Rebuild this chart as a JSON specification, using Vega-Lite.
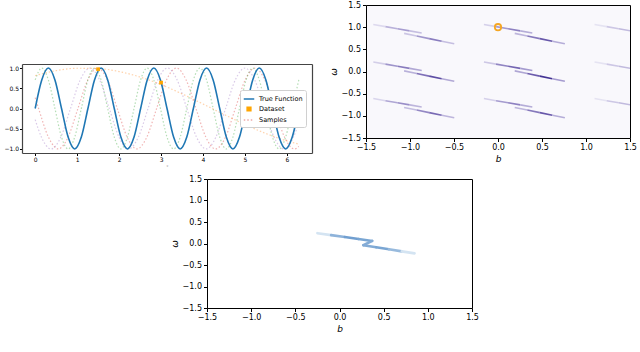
{
  "$schema": "https://vega.github.io/schema/vega-lite/v6.json",
  "background": "white",
  "padding": {"left": 3, "top": 0, "right": 0, "bottom": 0},
  "config": {
    "font": "DejaVu Sans",
    "view": {"stroke": "black", "strokeWidth": 1},
    "axis": {"grid": false, "domain": false, "tickColor": "black", "labelColor": "black", "titleColor": "black", "titleFontWeight": "normal", "labelFlush": false, "labelOverlap": false}
  },
  "datasets": {
    "samples": [
      {"series": "Sample 1", "x": 0, "y": 0.268}, {"series": "Sample 1", "x": 0.081, "y": 0}, {"series": "Sample 1", "x": 0.316, "y": -0.707}, {"series": "Sample 1", "x": 0.55, "y": -1}, {"series": "Sample 1", "x": 0.784, "y": -0.707}, {"series": "Sample 1", "x": 1.019, "y": 0}, {"series": "Sample 1", "x": 1.253, "y": 0.707}, {"series": "Sample 1", "x": 1.488, "y": 1}, {"series": "Sample 1", "x": 1.722, "y": 0.707}, {"series": "Sample 1", "x": 1.957, "y": 0}, {"series": "Sample 1", "x": 2.191, "y": -0.707}, {"series": "Sample 1", "x": 2.426, "y": -1}, {"series": "Sample 1", "x": 2.66, "y": -0.707}, {"series": "Sample 1", "x": 2.894, "y": 0}, {"series": "Sample 1", "x": 3.129, "y": 0.707}, {"series": "Sample 1", "x": 3.363, "y": 1}, {"series": "Sample 1", "x": 3.598, "y": 0.707}, {"series": "Sample 1", "x": 3.832, "y": 0}, {"series": "Sample 1", "x": 4.067, "y": -0.707}, {"series": "Sample 1", "x": 4.301, "y": -1}, {"series": "Sample 1", "x": 4.536, "y": -0.707}, {"series": "Sample 1", "x": 4.77, "y": 0}, {"series": "Sample 1", "x": 5.005, "y": 0.707}, {"series": "Sample 1", "x": 5.239, "y": 1}, {"series": "Sample 1", "x": 5.473, "y": 0.707}, {"series": "Sample 1", "x": 5.708, "y": 0}, {"series": "Sample 1", "x": 5.942, "y": -0.707}, {"series": "Sample 1", "x": 6.177, "y": -1}, {"series": "Sample 1", "x": 6.283, "y": -0.937},
      {"series": "Sample 2", "x": 0, "y": 0.707}, {"series": "Sample 2", "x": 0.157, "y": 1}, {"series": "Sample 2", "x": 0.314, "y": 0.707}, {"series": "Sample 2", "x": 0.471, "y": 0}, {"series": "Sample 2", "x": 0.628, "y": -0.707}, {"series": "Sample 2", "x": 0.785, "y": -1}, {"series": "Sample 2", "x": 0.942, "y": -0.707}, {"series": "Sample 2", "x": 1.1, "y": 0}, {"series": "Sample 2", "x": 1.257, "y": 0.707}, {"series": "Sample 2", "x": 1.414, "y": 1}, {"series": "Sample 2", "x": 1.571, "y": 0.707}, {"series": "Sample 2", "x": 1.728, "y": 0}, {"series": "Sample 2", "x": 1.885, "y": -0.707}, {"series": "Sample 2", "x": 2.042, "y": -1}, {"series": "Sample 2", "x": 2.199, "y": -0.707}, {"series": "Sample 2", "x": 2.356, "y": 0}, {"series": "Sample 2", "x": 2.513, "y": 0.707}, {"series": "Sample 2", "x": 2.67, "y": 1}, {"series": "Sample 2", "x": 2.827, "y": 0.707}, {"series": "Sample 2", "x": 2.985, "y": 0}, {"series": "Sample 2", "x": 3.142, "y": -0.707}, {"series": "Sample 2", "x": 3.299, "y": -1}, {"series": "Sample 2", "x": 3.456, "y": -0.707}, {"series": "Sample 2", "x": 3.613, "y": 0}, {"series": "Sample 2", "x": 3.77, "y": 0.707}, {"series": "Sample 2", "x": 3.927, "y": 1}, {"series": "Sample 2", "x": 4.084, "y": 0.707}, {"series": "Sample 2", "x": 4.241, "y": 0}, {"series": "Sample 2", "x": 4.398, "y": -0.707}, {"series": "Sample 2", "x": 4.555, "y": -1}, {"series": "Sample 2", "x": 4.712, "y": -0.707}, {"series": "Sample 2", "x": 4.869, "y": 0}, {"series": "Sample 2", "x": 5.027, "y": 0.707}, {"series": "Sample 2", "x": 5.184, "y": 1}, {"series": "Sample 2", "x": 5.341, "y": 0.707}, {"series": "Sample 2", "x": 5.498, "y": 0}, {"series": "Sample 2", "x": 5.655, "y": -0.707}, {"series": "Sample 2", "x": 5.812, "y": -1}, {"series": "Sample 2", "x": 5.969, "y": -0.707}, {"series": "Sample 2", "x": 6.126, "y": 0}, {"series": "Sample 2", "x": 6.283, "y": 0.707},
      {"series": "Sample 3", "x": 0, "y": -0.275}, {"series": "Sample 3", "x": 0.149, "y": -0.707}, {"series": "Sample 3", "x": 0.38, "y": -1}, {"series": "Sample 3", "x": 0.611, "y": -0.707}, {"series": "Sample 3", "x": 0.842, "y": 0}, {"series": "Sample 3", "x": 1.073, "y": 0.707}, {"series": "Sample 3", "x": 1.304, "y": 1}, {"series": "Sample 3", "x": 1.535, "y": 0.707}, {"series": "Sample 3", "x": 1.766, "y": 0}, {"series": "Sample 3", "x": 1.997, "y": -0.707}, {"series": "Sample 3", "x": 2.228, "y": -1}, {"series": "Sample 3", "x": 2.459, "y": -0.707}, {"series": "Sample 3", "x": 2.69, "y": 0}, {"series": "Sample 3", "x": 2.921, "y": 0.707}, {"series": "Sample 3", "x": 3.152, "y": 1}, {"series": "Sample 3", "x": 3.383, "y": 0.707}, {"series": "Sample 3", "x": 3.614, "y": 0}, {"series": "Sample 3", "x": 3.845, "y": -0.707}, {"series": "Sample 3", "x": 4.076, "y": -1}, {"series": "Sample 3", "x": 4.307, "y": -0.707}, {"series": "Sample 3", "x": 4.538, "y": 0}, {"series": "Sample 3", "x": 4.769, "y": 0.707}, {"series": "Sample 3", "x": 5.0, "y": 1}, {"series": "Sample 3", "x": 5.231, "y": 0.707}, {"series": "Sample 3", "x": 5.462, "y": 0}, {"series": "Sample 3", "x": 5.693, "y": -0.707}, {"series": "Sample 3", "x": 5.924, "y": -1}, {"series": "Sample 3", "x": 6.155, "y": -0.707}, {"series": "Sample 3", "x": 6.283, "y": -0.345},
      {"series": "Sample 4", "x": 0, "y": 0.813}, {"series": "Sample 4", "x": 0.5, "y": 0.936}, {"series": "Sample 4", "x": 1.0, "y": 0.995}, {"series": "Sample 4", "x": 1.5, "y": 0.987}, {"series": "Sample 4", "x": 2.0, "y": 0.913}, {"series": "Sample 4", "x": 2.5, "y": 0.778}, {"series": "Sample 4", "x": 3.0, "y": 0.59}, {"series": "Sample 4", "x": 3.5, "y": 0.362}, {"series": "Sample 4", "x": 4.0, "y": 0.111}, {"series": "Sample 4", "x": 4.5, "y": -0.147}, {"series": "Sample 4", "x": 5.0, "y": -0.397}, {"series": "Sample 4", "x": 5.5, "y": -0.619}, {"series": "Sample 4", "x": 6.0, "y": -0.801}, {"series": "Sample 4", "x": 6.283, "y": -0.88}
    ],
    "truefn": [
      {"series": "True Function", "x": 0, "y": 0}, {"series": "True Function", "x": 0.157, "y": 0.707}, {"series": "True Function", "x": 0.314, "y": 1}, {"series": "True Function", "x": 0.471, "y": 0.707}, {"series": "True Function", "x": 0.628, "y": 0}, {"series": "True Function", "x": 0.785, "y": -0.707}, {"series": "True Function", "x": 0.942, "y": -1}, {"series": "True Function", "x": 1.1, "y": -0.707}, {"series": "True Function", "x": 1.257, "y": 0}, {"series": "True Function", "x": 1.414, "y": 0.707}, {"series": "True Function", "x": 1.571, "y": 1}, {"series": "True Function", "x": 1.728, "y": 0.707}, {"series": "True Function", "x": 1.885, "y": 0}, {"series": "True Function", "x": 2.042, "y": -0.707}, {"series": "True Function", "x": 2.199, "y": -1}, {"series": "True Function", "x": 2.356, "y": -0.707}, {"series": "True Function", "x": 2.513, "y": 0}, {"series": "True Function", "x": 2.67, "y": 0.707}, {"series": "True Function", "x": 2.827, "y": 1}, {"series": "True Function", "x": 2.985, "y": 0.707}, {"series": "True Function", "x": 3.142, "y": 0}, {"series": "True Function", "x": 3.299, "y": -0.707}, {"series": "True Function", "x": 3.456, "y": -1}, {"series": "True Function", "x": 3.613, "y": -0.707}, {"series": "True Function", "x": 3.77, "y": 0}, {"series": "True Function", "x": 3.927, "y": 0.707}, {"series": "True Function", "x": 4.084, "y": 1}, {"series": "True Function", "x": 4.241, "y": 0.707}, {"series": "True Function", "x": 4.398, "y": 0}, {"series": "True Function", "x": 4.555, "y": -0.707}, {"series": "True Function", "x": 4.712, "y": -1}, {"series": "True Function", "x": 4.869, "y": -0.707}, {"series": "True Function", "x": 5.027, "y": 0}, {"series": "True Function", "x": 5.184, "y": 0.707}, {"series": "True Function", "x": 5.341, "y": 1}, {"series": "True Function", "x": 5.498, "y": 0.707}, {"series": "True Function", "x": 5.655, "y": 0}, {"series": "True Function", "x": 5.812, "y": -0.707}, {"series": "True Function", "x": 5.969, "y": -1}, {"series": "True Function", "x": 6.126, "y": -0.707}, {"series": "True Function", "x": 6.283, "y": 0}
    ],
    "obs": [
      {"series": "Dataset", "x": 1.5, "y": 0.97},
      {"series": "Dataset", "x": 3.0, "y": 0.64}
    ],
    "streaks": [
      {"b": -1.417, "w": 1.06, "b2": -1.279, "w2": 1.012, "d": 0.12}, {"b": -1.279, "w": 1.012, "b2": -1.142, "w2": 0.965, "d": 0.3}, {"b": -1.142, "w": 0.965, "b2": -1.004, "w2": 0.917, "d": 0.39}, {"b": -1.004, "w": 0.917, "b2": -0.867, "w2": 0.87, "d": 0.24},
      {"b": -1.067, "w": 0.86, "b2": -0.924, "w2": 0.801, "d": 0.21}, {"b": -0.924, "w": 0.801, "b2": -0.782, "w2": 0.742, "d": 0.42}, {"b": -0.782, "w": 0.742, "b2": -0.639, "w2": 0.684, "d": 0.54}, {"b": -0.639, "w": 0.684, "b2": -0.497, "w2": 0.625, "d": 0.24},
      {"b": -1.417, "w": 0.214, "b2": -1.279, "w2": 0.166, "d": 0.17}, {"b": -1.279, "w": 0.166, "b2": -1.142, "w2": 0.119, "d": 0.43}, {"b": -1.142, "w": 0.119, "b2": -1.004, "w2": 0.071, "d": 0.55}, {"b": -1.004, "w": 0.071, "b2": -0.867, "w2": 0.024, "d": 0.34},
      {"b": -1.067, "w": 0.014, "b2": -0.924, "w2": -0.045, "d": 0.3}, {"b": -0.924, "w": -0.045, "b2": -0.782, "w2": -0.104, "d": 0.6}, {"b": -0.782, "w": -0.104, "b2": -0.639, "w2": -0.162, "d": 0.77}, {"b": -0.639, "w": -0.162, "b2": -0.497, "w2": -0.221, "d": 0.34},
      {"b": -1.417, "w": -0.61, "b2": -1.279, "w2": -0.658, "d": 0.14}, {"b": -1.279, "w": -0.658, "b2": -1.142, "w2": -0.705, "d": 0.35}, {"b": -1.142, "w": -0.705, "b2": -1.004, "w2": -0.753, "d": 0.46}, {"b": -1.004, "w": -0.753, "b2": -0.867, "w2": -0.8, "d": 0.28},
      {"b": -1.067, "w": -0.81, "b2": -0.924, "w2": -0.869, "d": 0.25}, {"b": -0.924, "w": -0.869, "b2": -0.782, "w2": -0.928, "d": 0.49}, {"b": -0.782, "w": -0.928, "b2": -0.639, "w2": -0.986, "d": 0.63}, {"b": -0.639, "w": -0.986, "b2": -0.497, "w2": -1.045, "d": 0.28},
      {"b": -0.16, "w": 1.06, "b2": -0.022, "w2": 1.012, "d": 0.16}, {"b": -0.022, "w": 1.012, "b2": 0.115, "w2": 0.965, "d": 0.4}, {"b": 0.115, "w": 0.965, "b2": 0.253, "w2": 0.917, "d": 0.52}, {"b": 0.253, "w": 0.917, "b2": 0.39, "w2": 0.87, "d": 0.32},
      {"b": 0.19, "w": 0.86, "b2": 0.333, "w2": 0.801, "d": 0.28}, {"b": 0.333, "w": 0.801, "b2": 0.475, "w2": 0.742, "d": 0.56}, {"b": 0.475, "w": 0.742, "b2": 0.618, "w2": 0.684, "d": 0.72}, {"b": 0.618, "w": 0.684, "b2": 0.76, "w2": 0.625, "d": 0.32},
      {"b": -0.16, "w": 0.214, "b2": -0.022, "w2": 0.166, "d": 0.2}, {"b": -0.022, "w": 0.166, "b2": 0.115, "w2": 0.119, "d": 0.5}, {"b": 0.115, "w": 0.119, "b2": 0.253, "w2": 0.071, "d": 0.65}, {"b": 0.253, "w": 0.071, "b2": 0.39, "w2": 0.024, "d": 0.4},
      {"b": 0.19, "w": 0.014, "b2": 0.333, "w2": -0.045, "d": 0.35}, {"b": 0.333, "w": -0.045, "b2": 0.475, "w2": -0.104, "d": 0.7}, {"b": 0.475, "w": -0.104, "b2": 0.618, "w2": -0.162, "d": 0.9}, {"b": 0.618, "w": -0.162, "b2": 0.76, "w2": -0.221, "d": 0.4},
      {"b": -0.16, "w": -0.61, "b2": -0.022, "w2": -0.658, "d": 0.16}, {"b": -0.022, "w": -0.658, "b2": 0.115, "w2": -0.705, "d": 0.4}, {"b": 0.115, "w": -0.705, "b2": 0.253, "w2": -0.753, "d": 0.52}, {"b": 0.253, "w": -0.753, "b2": 0.39, "w2": -0.8, "d": 0.32},
      {"b": 0.19, "w": -0.81, "b2": 0.333, "w2": -0.869, "d": 0.28}, {"b": 0.333, "w": -0.869, "b2": 0.475, "w2": -0.928, "d": 0.56}, {"b": 0.475, "w": -0.928, "b2": 0.618, "w2": -0.986, "d": 0.72}, {"b": 0.618, "w": -0.986, "b2": 0.76, "w2": -1.045, "d": 0.32},
      {"b": 1.097, "w": 1.06, "b2": 1.235, "w2": 1.012, "d": 0.08}, {"b": 1.235, "w": 1.012, "b2": 1.372, "w2": 0.965, "d": 0.2}, {"b": 1.372, "w": 0.965, "b2": 1.51, "w2": 0.917, "d": 0.26},
      {"b": 1.097, "w": 0.214, "b2": 1.235, "w2": 0.166, "d": 0.08}, {"b": 1.235, "w": 0.166, "b2": 1.372, "w2": 0.119, "d": 0.2}, {"b": 1.372, "w": 0.119, "b2": 1.51, "w2": 0.071, "d": 0.26},
      {"b": 1.097, "w": -0.61, "b2": 1.235, "w2": -0.658, "d": 0.08}, {"b": 1.235, "w": -0.658, "b2": 1.372, "w2": -0.705, "d": 0.2}, {"b": 1.372, "w": -0.705, "b2": 1.51, "w2": -0.753, "d": 0.26}
    ],
    "truth": [{"b": 0, "w": 1.0}],
    "mode": [
      {"b": -0.25, "w": 0.24, "b2": -0.095, "w2": 0.195, "d": 0.15},
      {"b": -0.095, "w": 0.195, "b2": 0.06, "w2": 0.15, "d": 0.5},
      {"b": 0.06, "w": 0.15, "b2": 0.215, "w2": 0.105, "d": 0.65},
      {"b": 0.215, "w": 0.105, "b2": 0.37, "w2": 0.06, "d": 0.6},
      {"b": 0.37, "w": 0.06, "b2": 0.27, "w2": -0.04, "d": 0.55},
      {"b": 0.27, "w": -0.04, "b2": 0.415, "w2": -0.088, "d": 0.55},
      {"b": 0.415, "w": -0.088, "b2": 0.56, "w2": -0.135, "d": 0.6},
      {"b": 0.56, "w": -0.135, "b2": 0.705, "w2": -0.183, "d": 0.45},
      {"b": 0.705, "w": -0.183, "b2": 0.85, "w2": -0.23, "d": 0.15}
    ]
  },
  "resolve": {"scale": {"x": "independent", "y": "independent", "color": "independent"}},
  "spacing": 6,
  "vconcat": [
    {
      "resolve": {"scale": {"x": "independent", "y": "independent", "color": "independent"}},
      "spacing": 16,
      "hconcat": [
        {
          "width": 290,
          "height": 148,
          "view": {"stroke": null},
          "resolve": {"axis": {"x": "independent", "y": "independent"}},
          "layer": [
            {
              "encoding": {
                "x": {"field": "x", "type": "quantitative", "scale": {"domain": [-0.314, 6.597], "nice": false, "zero": false},
                      "axis": {"values": [0, 1, 2, 3, 4, 5, 6], "format": "d", "labelFontSize": 6, "tickSize": 2.5, "labelPadding": 1, "domain": true, "domainColor": "#444444", "domainWidth": 1.2, "title": "x", "titleFontSize": 3, "titleColor": "#777777", "titlePadding": 2}},
                "y": {"field": "y", "type": "quantitative", "scale": {"domain": [-1.1, 1.1], "range": [148, 59], "nice": false, "zero": false},
                      "axis": {"values": [-1, -0.5, 0, 0.5, 1], "format": ".1f", "labelFontSize": 6, "tickSize": 2.5, "labelPadding": 1, "domain": true, "domainColor": "#444444", "domainWidth": 1.2, "title": null}},
                "color": {"field": "series", "type": "nominal",
                          "scale": {"domain": ["True Function", "Dataset", "Sample 1", "Sample 2", "Sample 3", "Sample 4"], "range": ["#1f77b4", "#ffa500", "#d62728", "#2ca02c", "#9467bd", "#ff7f0e"]},
                          "legend": {"orient": "none", "legendX": 218, "legendY": 85, "title": null,
                                     "values": ["True Function", "Dataset", "Sample 1"],
                                     "labelExpr": "datum.label == 'Sample 1' ? 'Samples' : datum.label",
                                     "labelFontSize": 6.5, "labelColor": "black", "labelOffset": 4,
                                     "strokeColor": "#d0d0d0", "fillColor": "white", "cornerRadius": 2, "padding": 3, "rowPadding": 0,
                                     "symbolSize": 110, "symbolStrokeWidth": 1.5,
                                     "encode": {"symbols": {"update": {
                                       "shape": {"signal": "datum.value === 'Dataset' ? 'square' : 'stroke'"},
                                       "size": {"signal": "datum.value === 'Dataset' ? 14 : 110"},
                                       "stroke": {"signal": "datum.value === 'True Function' ? '#1f77b4' : datum.value === 'Dataset' ? 'transparent' : '#d62728'"},
                                       "fill": {"signal": "datum.value === 'Dataset' ? '#ffa500' : 'transparent'"},
                                       "strokeDash": {"signal": "datum.value === 'Sample 1' ? [1.5, 2] : [1, 0]"},
                                       "opacity": {"signal": "datum.value === 'Sample 1' ? 0.4 : 1"},
                                       "strokeWidth": {"value": 1.5}
                                     }}}}}
              },
              "layer": [
                {"data": {"name": "samples"}, "mark": {"type": "line", "interpolate": "monotone", "strokeDash": [1.5, 2], "strokeWidth": 1.2, "opacity": 0.35, "clip": true}, "encoding": {"detail": {"field": "series"}}},
                {"data": {"name": "truefn"}, "mark": {"type": "line", "interpolate": "monotone", "strokeWidth": 1.6, "clip": true}},
                {"data": {"name": "obs"}, "mark": {"type": "point", "shape": "square", "filled": true, "size": 14, "opacity": 1}}
              ]
            },
            {
              "data": {"name": "obs"},
              "mark": {"type": "point", "opacity": 0},
              "encoding": {
                "x": {"field": "x", "type": "quantitative",
                      "axis": {"orient": "top", "offset": -59, "labels": false, "ticks": false, "domain": true, "domainColor": "#444444", "domainWidth": 1.2, "title": null}},
                "y": {"field": "y", "type": "quantitative",
                      "axis": {"orient": "right", "labels": false, "ticks": false, "domain": true, "domainColor": "#444444", "domainWidth": 1.2, "title": null}}
              }
            }
          ]
        },
        {
          "width": 264,
          "height": 133,
          "view": {"fill": "#f9f8fc", "stroke": "black"},
          "encoding": {
            "x": {"field": "b", "type": "quantitative", "scale": {"domain": [-1.5, 1.5], "nice": false, "zero": false},
                  "axis": {"values": [-1.5, -1, -0.5, 0, 0.5, 1, 1.5], "format": ".1f", "labelFontSize": 8, "tickSize": 3.5, "labelPadding": 1.5, "title": "b", "titleFontSize": 9, "titleFontStyle": "italic", "titlePadding": 3}},
            "y": {"field": "w", "type": "quantitative", "scale": {"domain": [-1.5, 1.5], "nice": false, "zero": false},
                  "axis": {"values": [-1.5, -1, -0.5, 0, 0.5, 1, 1.5], "format": ".1f", "labelFontSize": 8, "tickSize": 3.5, "labelPadding": 2, "title": "ω", "titleFontSize": 9, "titleFontStyle": "italic", "titlePadding": 3}}
          },
          "layer": [
            {"data": {"name": "streaks"}, "mark": {"type": "rule", "strokeWidth": 1.6, "strokeCap": "butt", "clip": true},
             "encoding": {"x2": {"field": "b2"}, "y2": {"field": "w2"},
                          "color": {"field": "d", "type": "quantitative", "scale": {"domain": [0, 1], "range": ["#f6f5fb", "#2e2088"]}, "legend": null}}},
            {"data": {"name": "truth"}, "mark": {"type": "point", "filled": false, "size": 40, "strokeWidth": 1.8, "color": "#f5a623", "opacity": 1}}
          ]
        }
      ]
    },
    {
      "spacing": 0,
      "hconcat": [
        {"width": 147, "height": 1, "view": {"stroke": null, "fill": null}, "data": {"values": []}, "mark": "point"},
        {
          "width": 265,
          "height": 129,
          "view": {"fill": "white", "stroke": "black"},
          "encoding": {
            "x": {"field": "b", "type": "quantitative", "scale": {"domain": [-1.5, 1.5], "nice": false, "zero": false},
                  "axis": {"values": [-1.5, -1, -0.5, 0, 0.5, 1, 1.5], "format": ".1f", "labelFontSize": 8, "tickSize": 3.5, "labelPadding": 1.5, "title": "b", "titleFontSize": 9, "titleFontStyle": "italic", "titlePadding": 3}},
            "y": {"field": "w", "type": "quantitative", "scale": {"domain": [-1.5, 1.5], "nice": false, "zero": false},
                  "axis": {"values": [-1.5, -1, -0.5, 0, 0.5, 1, 1.5], "format": ".1f", "labelFontSize": 8, "tickSize": 3.5, "labelPadding": 2, "title": "ω", "titleFontSize": 9, "titleFontStyle": "italic", "titlePadding": 3}}
          },
          "layer": [
            {"data": {"name": "mode"}, "mark": {"type": "rule", "strokeWidth": 2.6, "strokeCap": "round", "clip": true},
             "encoding": {"x2": {"field": "b2"}, "y2": {"field": "w2"},
                          "color": {"field": "d", "type": "quantitative", "scale": {"domain": [0, 1], "range": ["#f4f9fd", "#1f6fb8"]}, "legend": null}}}
          ]
        }
      ]
    }
  ]
}
